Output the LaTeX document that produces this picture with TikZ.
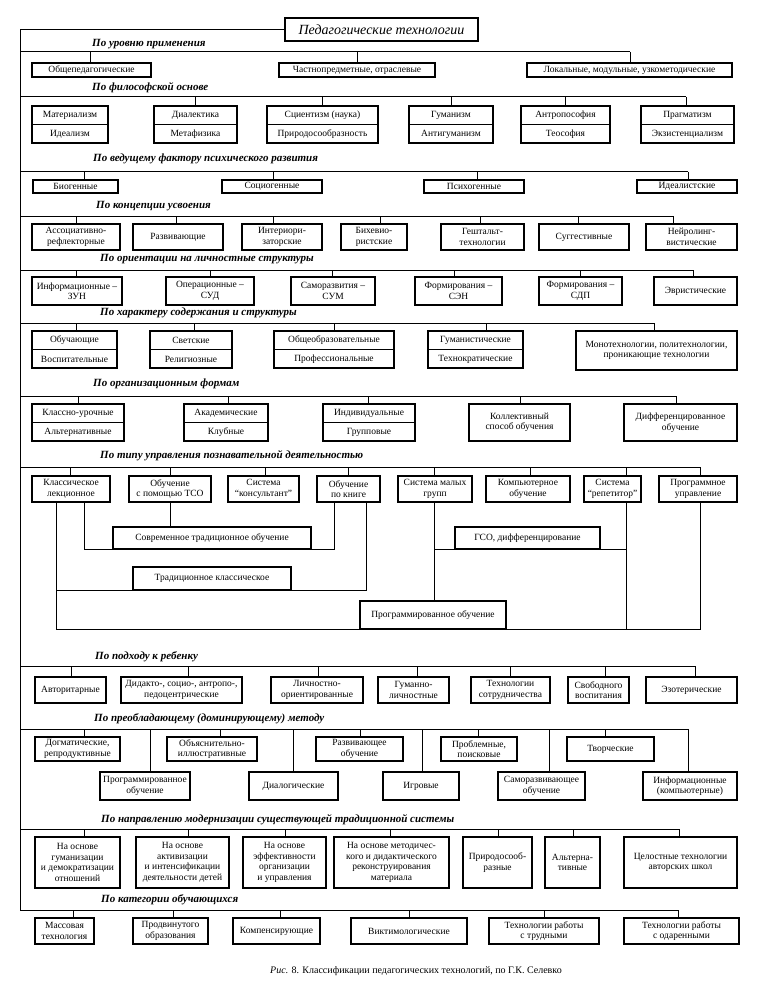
\documentclass[tikz,border=0pt]{standalone}
\usepackage{fontspec}
\setmainfont{Liberation Serif}
\usetikzlibrary{calc}
\newcommand\mkbox[6]{\pgfmathsetmacro\bw{#4-#2}\pgfmathsetmacro\bh{#5-#3}%
  \pgfmathsetmacro\bcx{(#2+#4)/2}\pgfmathsetmacro\bcy{(#3+#5)/2}%
  \node[bx, minimum width=\bw pt, minimum height=\bh pt] (#1) at (\bcx,\bcy) {#6};}
\newcommand\mkdbl[7]{\mkbox{#1}{#2}{#3}{#4}{#5}{}%
  \draw[ln] (#1.west) -- (#1.east);
  \node[txt] at ($(#1.north)!0.5!(#1.center)$) {#6};
  \node[txt] at ($(#1.south)!0.5!(#1.center)$) {#7};}
\newcommand\mkdrop[3]{\coordinate (dtmp) at (#1,#2); \draw[ln] (dtmp) -- (dtmp |- #3.north);}
\newcommand\mkbar[3]{\coordinate (#1) at (20,#2); \coordinate (#1e) at (#3,#2); \draw[ln] (#1) -- (#1e);}
\begin{document}
\begin{tikzpicture}[x=1pt,y=-1pt,
  bx/.style={draw, line width=1.3pt, inner sep=1pt, align=center, font=\fontsize{9.5}{10.5}\selectfont},
  ln/.style={line width=1pt},
  cat/.style={anchor=west, inner sep=0pt, font=\fontsize{11}{13}\selectfont\bfseries\itshape},
  txt/.style={inner sep=0pt, align=center, font=\fontsize{9.5}{10.5}\selectfont}]
\useasboundingbox[fill=white] (0,0) rectangle (759,995);

% title and spine
\mkbox{title}{285}{18}{478}{41}{\fontsize{14}{16}\selectfont\itshape Педагогические технологии}
\coordinate (s0) at (20,29.5);

% 1
\node[cat] (c1) at (92,44) {По уровню применения};
\mkbar{s1}{52}{630}
\mkbox{n11}{32}{63}{151}{77}{Общепедагогические}
\mkbox{n12}{279}{63}{435}{77}{Частнопредметные, отраслевые}
\mkbox{n13}{527}{63}{732}{77}{Локальные, модульные, узкометодические}
\mkdrop{90}{52}{n11}\mkdrop{357}{52}{n12}\mkdrop{630}{52}{n13}

% 2
\node[cat] (c2) at (92,88) {По философской основе};
\mkbar{s2}{97}{686}
\mkdbl{n21}{32}{106}{108}{143}{Материализм}{Идеализм}
\mkdbl{n22}{154}{106}{237}{143}{Диалектика}{Метафизика}
\mkdbl{n23}{267}{106}{378}{143}{Сциентизм (наука)}{Природосообразность}
\mkdbl{n24}{409}{106}{493}{143}{Гуманизм}{Антигуманизм}
\mkdbl{n25}{521}{106}{610}{143}{Антропософия}{Теософия}
\mkdbl{n26}{641}{106}{734}{143}{Прагматизм}{Экзистенциализм}
\mkdrop{195}{97}{n22}\mkdrop{322}{97}{n23}\mkdrop{451}{97}{n24}\mkdrop{565}{97}{n25}\mkdrop{686}{97}{n26}

% 3
\node[cat] (c3) at (93,159) {По ведущему фактору психического развития};
\mkbar{s3}{172}{688}
\mkbox{n31}{33}{180}{118}{193}{Биогенные}
\mkbox{n32}{222}{180}{322}{193}{Социогенные}
\mkbox{n33}{424}{180}{524}{193}{Психогенные}
\mkbox{n34}{637}{180}{737}{193}{Идеалистские}
\mkdrop{84}{172}{n31}\mkdrop{273}{172}{n32}\mkdrop{477}{172}{n33}\mkdrop{688}{172}{n34}

% 4
\node[cat] (c4) at (96,206) {По концепции усвоения};
\mkbar{s4}{216}{673}
\mkbox{n41}{32}{224}{120}{250}{Ассоциативно-\\рефлекторные}
\mkbox{n42}{133}{224}{223}{250}{Развивающие}
\mkbox{n43}{242}{224}{322}{250}{Интериори-\\заторские}
\mkbox{n44}{341}{224}{407}{250}{Бихевио-\\ристские}
\mkbox{n45}{441}{224}{524}{250}{Гештальт-\\технологии}
\mkbox{n46}{539}{224}{629}{250}{Суггестивные}
\mkbox{n47}{646}{224}{737}{250}{Нейролинг-\\вистические}
\mkdrop{76}{216}{n41}\mkdrop{176}{216}{n42}\mkdrop{273}{216}{n43}\mkdrop{380}{216}{n44}\mkdrop{480}{216}{n45}\mkdrop{578}{216}{n46}\mkdrop{673}{216}{n47}

% 5
\node[cat] (c5) at (100,259) {По ориентации на личностные структуры};
\mkbar{s5}{270}{693}
\mkbox{n51}{32}{277}{122}{305}{Информационные –\\ЗУН}
\mkbox{n52}{166}{277}{254}{305}{Операционные –\\СУД}
\mkbox{n53}{291}{277}{375}{305}{Саморазвития –\\СУМ}
\mkbox{n54}{415}{277}{502}{305}{Формирования –\\СЭН}
\mkbox{n55}{539}{277}{622}{305}{Формирования –\\СДП}
\mkbox{n56}{654}{277}{737}{305}{Эвристические}
\mkdrop{76}{270}{n51}\mkdrop{210}{270}{n52}\mkdrop{332}{270}{n53}\mkdrop{454}{270}{n54}\mkdrop{580}{270}{n55}\mkdrop{693}{270}{n56}

% 6
\node[cat] (c6) at (100,313) {По характеру содержания и структуры};
\mkbar{s6}{323}{654}
\mkdbl{n61}{32}{331}{117}{368}{Обучающие}{Воспитательные}
\mkdbl{n62}{150}{331}{232}{368}{Светские}{Религиозные}
\mkdbl{n63}{274}{331}{394}{368}{Общеобразовательные}{Профессиональные}
\mkdbl{n64}{428}{331}{523}{368}{Гуманистические}{Технократические}
\mkbox{n65}{576}{331}{737}{370}{Монотехнологии, политехнологии,\\проникающие технологии}
\mkdrop{76}{323}{n61}\mkdrop{194}{323}{n62}\mkdrop{334}{323}{n63}\mkdrop{486}{323}{n64}\mkdrop{654}{323}{n65}

% 7
\node[cat] (c7) at (93,384) {По организационным формам};
\mkbar{s7}{396}{676}
\mkdbl{n71}{32}{404}{124}{441}{Классно-урочные}{Альтернативные}
\mkdbl{n72}{184}{404}{268}{441}{Академические}{Клубные}
\mkdbl{n73}{323}{404}{415}{441}{Индивидуальные}{Групповые}
\mkbox{n74}{469}{404}{570}{441}{Коллективный\\способ обучения}
\mkbox{n75}{624}{404}{737}{441}{Дифференцированное\\обучение}
\mkdrop{78}{396}{n71}\mkdrop{228}{396}{n72}\mkdrop{368}{396}{n73}\mkdrop{520}{396}{n74}\mkdrop{676}{396}{n75}

% 8
\node[cat] (c8) at (100,456) {По типу управления познавательной деятельностью};
\mkbar{s8}{467}{700}
\mkbox{n81}{32}{476}{110}{502}{Классическое\\лекционное}
\mkbox{n82}{129}{476}{211}{502}{Обучение\\с помощью ТСО}
\mkbox{n83}{228}{476}{299}{502}{Система\\“консультант”}
\mkbox{n84}{317}{476}{380}{502}{Обучение\\по книге}
\mkbox{n85}{398}{476}{472}{502}{Система малых\\групп}
\mkbox{n86}{486}{476}{570}{502}{Компьютерное\\обучение}
\mkbox{n87}{584}{476}{641}{502}{Система\\“репетитор”}
\mkbox{n88}{659}{476}{737}{502}{Программное\\управление}
\mkdrop{70}{467}{n81}\mkdrop{170}{467}{n82}\mkdrop{265}{467}{n83}\mkdrop{348}{467}{n84}\mkdrop{434}{467}{n85}\mkdrop{530}{467}{n86}\mkdrop{626}{467}{n87}\mkdrop{700}{467}{n88}
\mkbox{m1}{113}{527}{311}{549}{Современное традиционное обучение}
\mkbox{m2}{455}{527}{600}{549}{ГСО, дифференцирование}
\mkbox{m3}{133}{567}{291}{590}{Традиционное классическое}
\mkbox{m4}{360}{601}{506}{629}{Программированное обучение}
\coordinate (xa) at (56,0); \coordinate (xb) at (84,0); \coordinate (xc) at (334,0);
\coordinate (xd) at (366,0); \coordinate (xe) at (434,0); \coordinate (xf) at (626,0);
\coordinate (xg) at (700,0); \coordinate (xh) at (170,0);
\draw[ln] (n81.south -| xa) -- (m4.south -| xa) -- (m4.south -| xg) -- (n88.south -| xg);
\draw[ln] (n81.south -| xb) -- (m1.south -| xb) -- (m1.south -| xc) -- (n84.south -| xc);
\draw[ln] (n82.south -| xh) -- (m1.north -| xh);
\draw[ln] (n84.south -| xd) -- (m3.south -| xd) -- (m3.south -| xa);
\draw[ln] (n85.south -| xe) -- (m4.north -| xe);
\draw[ln] (m2.south -| xe) -- (m2.south -| xf);
\draw[ln] (n87.south -| xf) -- (m4.south -| xf);

% 9
\node[cat] (c9) at (95,657) {По подходу к ребенку};
\mkbar{s9}{666}{695}
\mkbox{n91}{35}{677}{106}{703}{Авторитарные}
\mkbox{n92}{121}{677}{242}{703}{Дидакто-, социо-, антропо-,\\педоцентрические}
\mkbox{n93}{271}{677}{363}{703}{Личностно-\\ориентированные}
\mkbox{n94}{378}{677}{449}{703}{Гуманно-\\личностные}
\mkbox{n95}{471}{677}{550}{703}{Технологии\\сотрудничества}
\mkbox{n96}{568}{677}{629}{703}{Свободного\\воспитания}
\mkbox{n97}{646}{677}{737}{703}{Эзотерические}
\mkdrop{71}{666}{n91}\mkdrop{188}{666}{n92}\mkdrop{318}{666}{n93}\mkdrop{417}{666}{n94}\mkdrop{510}{666}{n95}\mkdrop{605}{666}{n96}\mkdrop{695}{666}{n97}

% 10
\node[cat] (c10) at (94,719) {По преобладающему (доминирующему) методу};
\mkbar{s10}{729}{688}
\mkbox{p1}{35}{737}{120}{761}{Догматические,\\репродуктивные}
\mkbox{p2}{167}{737}{257}{761}{Объяснительно-\\иллюстративные}
\mkbox{p3}{316}{737}{403}{761}{Развивающее\\обучение}
\mkbox{p4}{441}{737}{517}{761}{Проблемные,\\поисковые}
\mkbox{p5}{567}{737}{654}{761}{Творческие}
\mkbox{q1}{100}{772}{190}{800}{Программированное\\обучение}
\mkbox{q2}{249}{772}{338}{800}{Диалогические}
\mkbox{q3}{383}{772}{459}{800}{Игровые}
\mkbox{q4}{498}{772}{585}{800}{Саморазвивающее\\обучение}
\mkbox{q5}{643}{772}{737}{800}{Информационные\\(компьютерные)}
\mkdrop{84}{729}{p1}\mkdrop{220}{729}{p2}\mkdrop{360}{729}{p3}\mkdrop{478}{729}{p4}\mkdrop{605}{729}{p5}
\mkdrop{150}{729}{q1}\mkdrop{293}{729}{q2}\mkdrop{422}{729}{q3}\mkdrop{549}{729}{q4}\mkdrop{688}{729}{q5}

% 11
\node[cat] (c11) at (101,820) {По направлению модернизации существующей традиционной системы};
\mkbar{s11}{829}{679}
\mkbox{r1}{35}{837}{120}{888}{На основе\\гуманизации\\и демократизации\\отношений}
\mkbox{r2}{136}{837}{229}{888}{На основе\\активизации\\и интенсификации\\деятельности детей}
\mkbox{r3}{243}{837}{326}{888}{На основе\\эффективности\\организации\\и управления}
\mkbox{r4}{334}{837}{449}{888}{На основе методичес-\\кого и дидактического\\реконструирования\\материала}
\mkbox{r5}{463}{837}{532}{888}{Природосооб-\\разные}
\mkbox{r6}{545}{837}{600}{888}{Альтерна-\\тивные}
\mkbox{r7}{624}{837}{737}{888}{Целостные технологии\\авторских школ}
\mkdrop{84}{829}{r1}\mkdrop{188}{829}{r2}\mkdrop{285}{829}{r3}\mkdrop{390}{829}{r4}\mkdrop{498}{829}{r5}\mkdrop{573}{829}{r6}\mkdrop{679}{829}{r7}

% 12
\node[cat] (c12) at (101,900) {По категории обучающихся};
\mkbar{s12}{910}{678}
\mkbox{t1}{35}{918}{94}{944}{Массовая\\технология}
\mkbox{t2}{133}{918}{208}{944}{Продвинутого\\образования}
\mkbox{t3}{233}{918}{320}{944}{Компенсирующие}
\mkbox{t4}{351}{918}{467}{944}{Виктимологические}
\mkbox{t5}{489}{918}{599}{944}{Технологии работы\\с трудными}
\mkbox{t6}{624}{918}{739}{944}{Технологии работы\\с одаренными}
\mkdrop{73}{910}{t1}\mkdrop{173}{910}{t2}\mkdrop{280}{910}{t3}\mkdrop{409}{910}{t4}\mkdrop{544}{910}{t5}\mkdrop{678}{910}{t6}

% spine
\draw[ln] (title.west) -- (s0) -- (s12);

% caption
\node[txt, font=\fontsize{10}{12}\selectfont] (cap) at (416,971) {\textit{Рис.} 8. Классификации педагогических технологий, по Г.К. Селевко};
\end{tikzpicture}
\end{document}
